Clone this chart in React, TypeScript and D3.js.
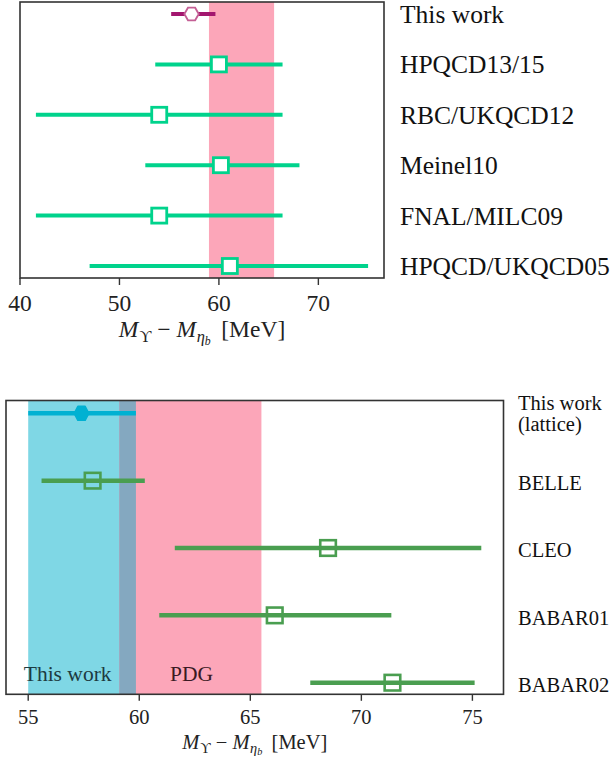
import React from "react";
import * as d3 from "d3";

// ---------- Data ----------
const topLabels = ["This work", "HPQCD13/15", "RBC/UKQCD12", "Meinel10", "FNAL/MILC09", "HPQCD/UKQCD05"];
const topValues = [57.25, 60.0, 54.0, 60.2, 54.0, 61.1];
const topLow = [55.2, 53.6, 41.6, 52.6, 41.6, 47.0];
const topHigh = [59.65, 66.4, 66.4, 68.1, 66.4, 75.0];
const topTicks = [40, 50, 60, 70];
const topPdgBand = [59.0, 65.55];

const botLabels = ["This work", "BELLE", "CLEO", "BABAR01", "BABAR02"];
const botValues = [57.4, 57.9, 68.5, 66.1, 71.4];
const botLow = [55.0, 55.6, 61.6, 60.9, 67.7];
const botHigh = [59.85, 60.25, 75.4, 71.35, 75.1];
const botTicks = [55, 60, 65, 70, 75];
const botPdgBand = [59.1, 65.5];
const botThisWorkBand = [55.0, 59.85];

// ---------- Style ----------
const FONT = "'Liberation Serif', 'Times New Roman', serif";
const PINK = "#fca6b9";
const CYAN_BAND = "#7fd7e5";
const OVERLAP = "#84a8c0";
const TOP_GREEN = "#00d38c";
const BOT_GREEN = "#4a9e50";
const MAGENTA = "#a3166f";
const MAGENTA_LIGHT = "#c45f95";
const CYAN_PT = "#00b1d2";
const FRAME = "#333";

function hexPath(cx: number, cy: number, rx: number, ry: number) {
  const pts: [number, number][] = [
    [cx - rx, cy],
    [cx - rx / 2, cy - ry],
    [cx + rx / 2, cy - ry],
    [cx + rx, cy],
    [cx + rx / 2, cy + ry],
    [cx - rx / 2, cy + ry],
  ];
  return "M" + pts.map((p) => p.join(",")).join("L") + "Z";
}

function AxisLabel({ x, y, size }: { x: number; y: number; size: number }) {
  const sub = size * 0.7;
  const subsub = size * 0.5;
  return (
    <text x={x} y={y} textAnchor="middle" fontFamily={FONT} fontSize={size} fill="#222">
      <tspan fontStyle="italic">M</tspan>
      <tspan fontSize={sub} dy={size * 0.22} dx={size * 0.05}>ϒ</tspan>
      <tspan dy={-size * 0.22} dx={size * 0.25}>−</tspan>
      <tspan fontStyle="italic" dx={size * 0.25}>M</tspan>
      <tspan fontSize={sub} fontStyle="italic" dy={size * 0.22} dx={size * 0.03}>η</tspan>
      <tspan fontSize={subsub} fontStyle="italic" dy={size * 0.12}>b</tspan>
      <tspan dy={-size * 0.34} dx={size * 0.45}>[MeV]</tspan>
    </text>
  );
}

export default function App() {
  // ---------- Top panel ----------
  const tL = 20, tR = 384, tT = 2, tB = 278;
  const xT = d3.scaleLinear().domain([40, 76.6]).range([tL, tR]);
  const yT = d3.scalePoint<string>().domain(topLabels).range([14, 266]);
  const topFs = 23.5;
  const topLabFs = 25.5;

  // ---------- Bottom panel ----------
  const bL = 6, bR = 503.5, bT = 400.5, bB = 694.3;
  const xB = d3.scaleLinear().domain([54.0, 76.4]).range([bL, bR]);
  const yB = d3.scalePoint<string>().domain(botLabels).range([413.3, 682.7]);
  const botFs = 20.5;

  const ovLo = Math.max(botPdgBand[0], botThisWorkBand[0]);
  const ovHi = Math.min(botPdgBand[1], botThisWorkBand[1]);

  return (
    <svg
      width={611}
      height={757}
      style={{ position: "absolute", left: 0, top: 0, background: "#fff" }}
    >
      {/* ===== TOP PANEL ===== */}
      <rect x={tL} y={tT} width={tR - tL} height={tB - tT} fill="#fff" />
      <rect
        x={xT(topPdgBand[0])}
        y={tT}
        width={xT(topPdgBand[1]) - xT(topPdgBand[0])}
        height={tB - tT}
        fill={PINK}
      />
      {topLabels.map((lab, i) => {
        const y = yT(lab)!;
        const cx = xT(topValues[i]);
        const isThis = i === 0;
        const col = isThis ? MAGENTA : TOP_GREEN;
        return (
          <g key={lab}>
            <line
              x1={xT(topLow[i])}
              x2={xT(topHigh[i])}
              y1={y}
              y2={y}
              stroke={col}
              strokeWidth={4}
            />
            {isThis ? (
              <path d={hexPath(cx, y, 7.2, 6.3)} fill="#fff" stroke={MAGENTA_LIGHT} strokeWidth={1.8} />
            ) : (
              <rect x={cx - 7.5} y={y - 7.5} width={15} height={15} fill="#fff" stroke={TOP_GREEN} strokeWidth={2.8} />
            )}
            <text x={400} y={y + 9} fontFamily={FONT} fontSize={topLabFs} fill="#111">
              {lab}
            </text>
          </g>
        );
      })}
      <rect x={tL} y={tT} width={tR - tL} height={tB - tT} fill="none" stroke={FRAME} strokeWidth={1.6} />
      {topTicks.map((t) => (
        <g key={t}>
          <line x1={xT(t)} x2={xT(t)} y1={tB} y2={tB + 7} stroke={FRAME} strokeWidth={1.4} />
          <text x={xT(t)} y={311} textAnchor="middle" fontFamily={FONT} fontSize={topFs} fill="#222">
            {t}
          </text>
        </g>
      ))}
      <AxisLabel x={(tL + tR) / 2} y={337} size={topFs} />

      {/* ===== BOTTOM PANEL ===== */}
      <rect x={bL} y={bT} width={bR - bL} height={bB - bT} fill="#fff" />
      <rect
        x={xB(botThisWorkBand[0])}
        y={bT}
        width={xB(botThisWorkBand[1]) - xB(botThisWorkBand[0])}
        height={bB - bT}
        fill={CYAN_BAND}
      />
      <rect
        x={xB(botPdgBand[0])}
        y={bT}
        width={xB(botPdgBand[1]) - xB(botPdgBand[0])}
        height={bB - bT}
        fill={PINK}
      />
      <rect x={xB(ovLo)} y={bT} width={xB(ovHi) - xB(ovLo)} height={bB - bT} fill={OVERLAP} />
      <text x={xB(54.8)} y={681} fontFamily={FONT} fontSize={21.5} fill="#1d3a40">
        This work
      </text>
      <text
        x={xB((botPdgBand[0] + botPdgBand[1]) / 2 + 0.05)}
        y={681}
        textAnchor="middle"
        fontFamily={FONT}
        fontSize={21.5}
        fill="#3a1a24"
      >
        PDG
      </text>
      {botLabels.map((lab, i) => {
        const y = yB(lab)!;
        const cx = xB(botValues[i]);
        const isThis = i === 0;
        const col = isThis ? CYAN_PT : BOT_GREEN;
        return (
          <g key={lab}>
            <line
              x1={xB(botLow[i])}
              x2={xB(botHigh[i])}
              y1={y}
              y2={y}
              stroke={col}
              strokeWidth={4.5}
            />
            {isThis ? (
              <path
                d={hexPath(cx, y, 7.3, 7.0)}
                fill={CYAN_PT}
                stroke={CYAN_PT}
                strokeWidth={1.5}
                strokeLinejoin="round"
              />
            ) : (
              <rect x={cx - 7.8} y={y - 7.8} width={15.6} height={15.6} fill="none" stroke={BOT_GREEN} strokeWidth={2.6} />
            )}
            {isThis ? (
              <text fontFamily={FONT} fontSize={botFs} fill="#111">
                <tspan x={518} y={y - 3.3}>This work</tspan>
                <tspan x={518} y={y + 17.4}>(lattice)</tspan>
              </text>
            ) : (
              <text x={518} y={y + 9.3} fontFamily={FONT} fontSize={botFs} fill="#111">
                {lab}
              </text>
            )}
          </g>
        );
      })}
      <rect x={bL} y={bT} width={bR - bL} height={bB - bT} fill="none" stroke={FRAME} strokeWidth={1.6} />
      {botTicks.map((t) => (
        <g key={t}>
          <line x1={xB(t)} x2={xB(t)} y1={bB} y2={bB + 6.5} stroke={FRAME} strokeWidth={1.4} />
          <text x={xB(t)} y={723.5} textAnchor="middle" fontFamily={FONT} fontSize={botFs} fill="#222">
            {t}
          </text>
        </g>
      ))}
      <AxisLabel x={(bL + bR) / 2} y={748.5} size={botFs} />
    </svg>
  );
}
